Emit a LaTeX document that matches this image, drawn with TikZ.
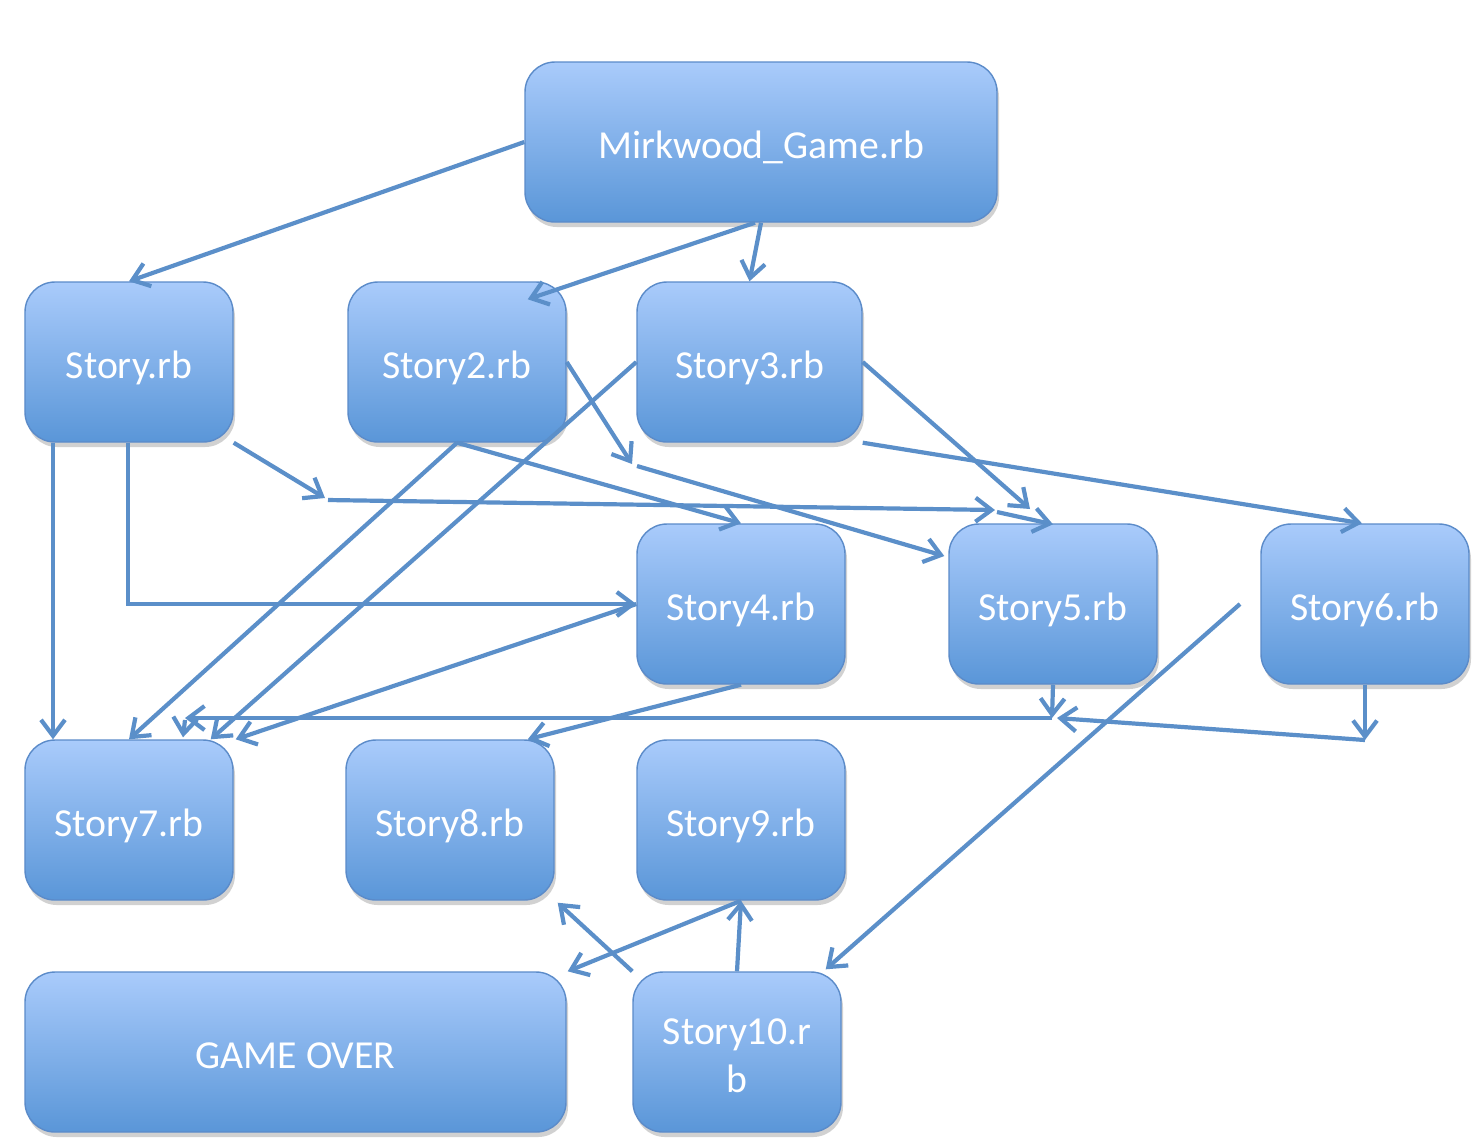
\documentclass[tikz,border=0pt]{standalone}
\usepackage{fontspec}
\setmainfont{Carlito}
\usepackage{xcolor}
\usetikzlibrary{arrows.meta,shadows}
\definecolor{boxtop}{HTML}{A9CBFB}
\definecolor{boxbottom}{HTML}{5A96D8}
\definecolor{boxedge}{HTML}{5B8BC9}
\definecolor{linkblue}{HTML}{5B8FC9}
\tikzset{
storybox/.style={rectangle, rounded corners=3mm, draw=boxedge, top color=boxtop, bottom color=boxbottom, thin, inner sep=0pt, minimum width=2.08cm, minimum height=1.6cm, text=white, align=center, text height=4.0mm, text depth=0.8mm, font=\fontsize{11.3}{13.5}\selectfont, drop shadow={shadow xshift=0.2mm, shadow yshift=-0.5mm, opacity=0.18, fill=black}},
linkarrow/.style={draw=linkblue, line width=0.42mm, -{Straight Barb[length=1.6mm,width=2.4mm]}},
}
\begin{document}
\begin{tikzpicture}
    \useasboundingbox (0,0) rectangle (14.84,-11.42);
    \node[storybox, minimum width=4.72cm] at (7.61,-1.42) (mirk) {Mirkwood\_Game.rb};
    \node[storybox] at (1.29,-3.62) (story) {Story.rb};
    \node[storybox, minimum width=2.18cm] at (4.57,-3.62) (story2) {Story2.rb};
    \node[storybox, minimum width=2.25cm] at (7.495,-3.62) (story3) {Story3.rb};
    \node[storybox] at (7.41,-6.04) (story4) {Story4.rb};
    \node[storybox] at (10.53,-6.04) (story5) {Story5.rb};
    \node[storybox] at (13.65,-6.04) (story6) {Story6.rb};
    \node[storybox] at (1.29,-8.20) (story7) {Story7.rb};
    \node[storybox] at (4.50,-8.20) (story8) {Story8.rb};
    \node[storybox] at (7.41,-8.20) (story9) {Story9.rb};
    \node[storybox, minimum width=5.41cm] at (2.955,-10.52) (gameover) {GAME OVER};
    \node[storybox, text height=8.8mm, text depth=0.8mm] at (7.37,-10.52) (story10) {Story10.r\\b};
    \coordinate (bend1) at (3.25,-4.98);
    \coordinate (bend2) at (9.95,-5.10);
    \coordinate (bend3) at (10.30,-5.09);
    \coordinate (bend4) at (6.32,-4.64);
    \coordinate (join5) at (10.52,-7.18);
    \coordinate (join7) at (1.85,-7.18);
    \coordinate (corner6) at (13.65,-7.40);
    \coordinate (free6) at (12.40,-6.04);
     \draw[linkarrow] (mirk.west) to (story.north);
     \draw[linkarrow] ([xshift=-0.6mm]mirk.south) to ([shift={(-0.39,-0.18)}]story2.north east);
     \draw[linkarrow] (mirk.south) to (story3.north);
     \draw[linkarrow] (story.south east) to (bend1);
     \draw[linkarrow] ([shift={(0.03,-0.02)}]bend1) to (bend2);
     \draw[linkarrow] ([shift={(0.02,-0.02)}]bend2) to ([yshift=-0.1mm]story5.north);
     \draw[linkarrow] (story3.east) to (bend3);
     \draw[linkarrow] (story2.east) to (bend4);
     \draw[linkarrow] ([shift={(0.05,-0.02)}]bend4) to ([shift={(-0.04,0.48)}]story5.west);
     \draw[linkarrow] (story2.south) to (story4.north);
     \draw[linkarrow] (story2.south) to (story7.north);
     \draw[linkarrow] (story3.west) to ([xshift=-2.3mm]story7.north east);
     \draw[linkarrow] (story3.south east) to ([xshift=-0.3mm]story6.north);
     \draw[linkarrow] ([xshift=-0.1mm]story.south) |- (story4.west);
     \draw[linkarrow] ([xshift=-7.6mm]story.south) to ([xshift=-7.6mm]story7.north);
     \draw[linkarrow] (story4.west) to ([xshift=0.2mm]story7.north east);
     \draw[linkarrow] (story4.south) to ([xshift=-2.7mm]story8.north east);
     \draw[linkarrow] (story5.south) to (join5);
     \draw[linkarrow] (join5) to (join7);
     \draw[linkarrow] ([yshift=-0.2mm]join7) to ([xshift=5.4mm,yshift=0.2mm]story7.north);
     \draw[linkarrow] (story6.south) to (corner6);
     \draw[linkarrow] (corner6) to ([xshift=0.5mm]join5);
     \draw[linkarrow] (free6) to ([shift={(-0.16,0.02)}]story10.north east);
     \draw[linkarrow] (story10.north) to (story9.south);
     \draw[linkarrow] (story10.north west) to ([shift={(0.03,-0.02)}]story8.south east);
     \draw[linkarrow] (story9.south) to ([xshift=0.1mm]gameover.north east);
\end{tikzpicture}
\end{document}
